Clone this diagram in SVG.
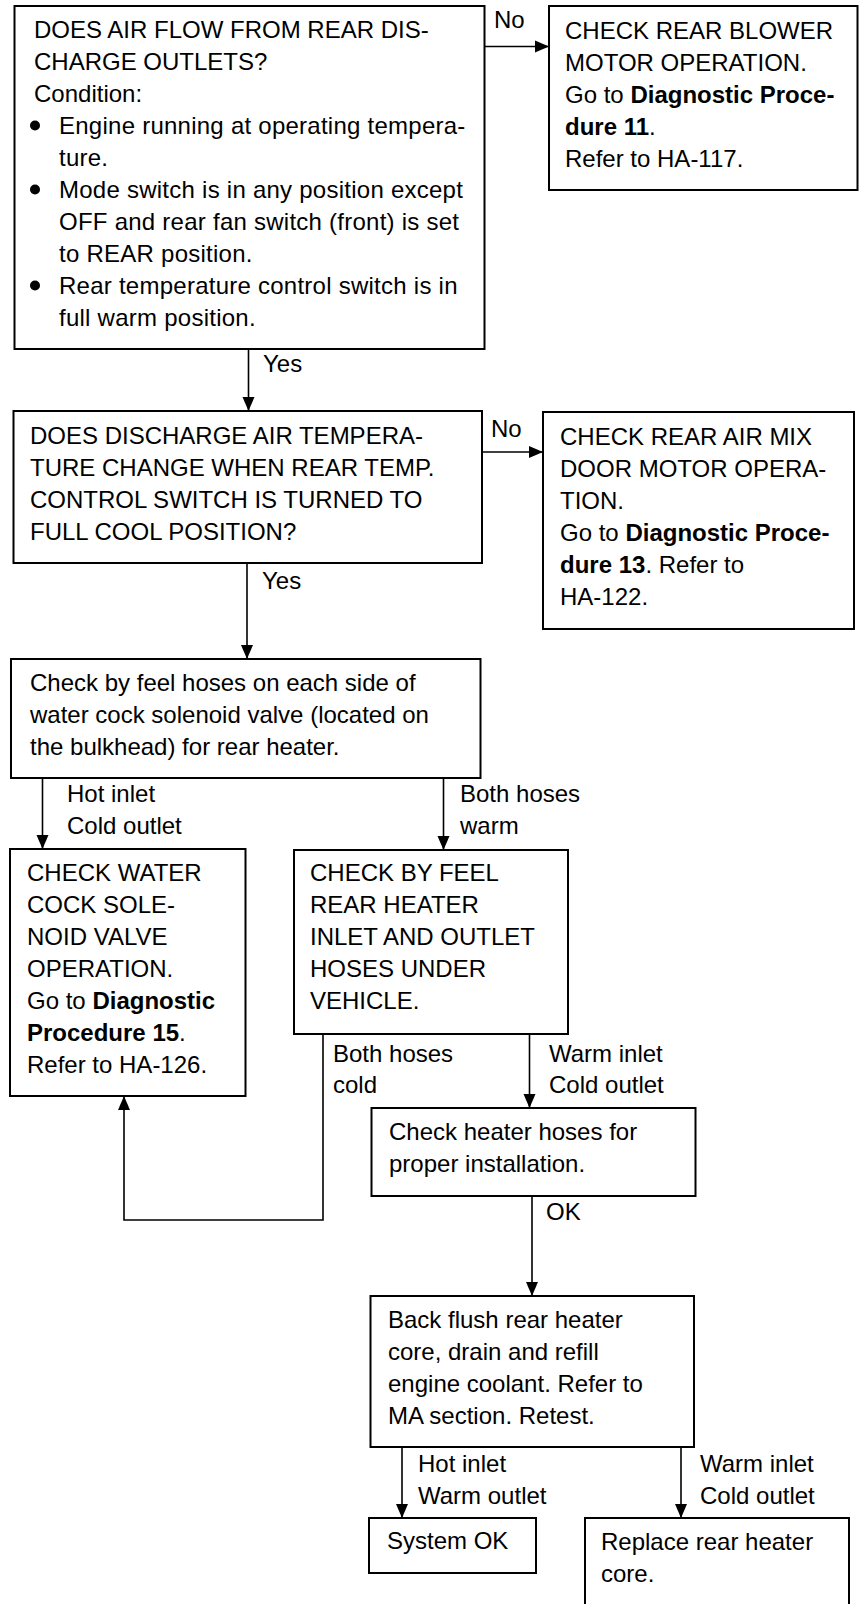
<svg xmlns="http://www.w3.org/2000/svg" width="864" height="1604" viewBox="0 0 864 1604">
<style>
.box{fill:#fff;stroke:#000;stroke-width:2}
.t{font-family:"Liberation Sans",Arial,sans-serif;font-size:24px;fill:#000}
.b{font-weight:bold}
.w{letter-spacing:0.25px}
.c{fill:none;stroke:#000;stroke-width:1.6}
</style>
<defs>
<marker id="ah" markerUnits="userSpaceOnUse" markerWidth="14" markerHeight="14" viewBox="0 0 14 12" refX="14" refY="6" orient="auto">
<path d="M0,0 L14,6 L0,12 Z" fill="#000"/>
</marker>
</defs>
<rect width="864" height="1604" fill="#fff"/>

<g id="connectors">
<line class="c" x1="485" y1="46.5" x2="549" y2="46.5" marker-end="url(#ah)"/>
<text class="t" x="494" y="28">No</text>
<line class="c" x1="248.5" y1="349" x2="248.5" y2="411" marker-end="url(#ah)"/>
<text class="t" x="263" y="372">Yes</text>
<line class="c" x1="482" y1="452" x2="543" y2="452" marker-end="url(#ah)"/>
<text class="t" x="491" y="437">No</text>
<line class="c" x1="247" y1="563" x2="247" y2="659" marker-end="url(#ah)"/>
<text class="t" x="262" y="589">Yes</text>
<line class="c" x1="42.5" y1="778" x2="42.5" y2="849" marker-end="url(#ah)"/>
<text class="t" x="67" y="802">Hot inlet</text>
<text class="t" x="67" y="834">Cold outlet</text>
<line class="c" x1="443.5" y1="778" x2="443.5" y2="850" marker-end="url(#ah)"/>
<text class="t" x="460" y="802">Both hoses</text>
<text class="t" x="460" y="834">warm</text>
<polyline class="c" points="323,1034 323,1220 124,1220 124,1096" marker-end="url(#ah)"/>
<text class="t" x="333" y="1062">Both hoses</text>
<text class="t" x="333" y="1093">cold</text>
<line class="c" x1="529.5" y1="1034" x2="529.5" y2="1108" marker-end="url(#ah)"/>
<text class="t" x="549" y="1062">Warm inlet</text>
<text class="t" x="549" y="1093">Cold outlet</text>
<line class="c" x1="532" y1="1196" x2="532" y2="1296" marker-end="url(#ah)"/>
<text class="t" x="546" y="1220">OK</text>
<line class="c" x1="402" y1="1447" x2="402" y2="1518" marker-end="url(#ah)"/>
<text class="t" x="418" y="1472">Hot inlet</text>
<text class="t" x="418" y="1504">Warm outlet</text>
<line class="c" x1="681" y1="1447" x2="681" y2="1518" marker-end="url(#ah)"/>
<text class="t" x="700" y="1472">Warm inlet</text>
<text class="t" x="700" y="1504">Cold outlet</text>
</g>

<g id="n1">
<rect class="box" x="14.5" y="6" width="470" height="343"/>
<text class="t" x="34" y="38">DOES AIR FLOW FROM REAR DIS-</text>
<text class="t" x="34" y="70">CHARGE OUTLETS?</text>
<text class="t" x="34" y="102">Condition:</text>
<circle cx="35" cy="125.5" r="5"/>
<text class="t w" x="59" y="134">Engine running at operating tempera-</text>
<text class="t w" x="59" y="166">ture.</text>
<circle cx="35" cy="189.5" r="5"/>
<text class="t w" x="59" y="198">Mode switch is in any position except</text>
<text class="t w" x="59" y="230">OFF and rear fan switch (front) is set</text>
<text class="t w" x="59" y="262">to REAR position.</text>
<circle cx="35" cy="285.5" r="5"/>
<text class="t w" x="59" y="294">Rear temperature control switch is in</text>
<text class="t w" x="59" y="326">full warm position.</text>
</g>

<g id="n2">
<rect class="box" x="549" y="6" width="308.5" height="184"/>
<text class="t" x="565" y="39">CHECK REAR BLOWER</text>
<text class="t" x="565" y="71">MOTOR OPERATION.</text>
<text class="t" x="565" y="103">Go to <tspan class="b">Diagnostic Proce-</tspan></text>
<text class="t" x="565" y="135"><tspan class="b">dure 11</tspan>.</text>
<text class="t" x="565" y="167">Refer to HA-117.</text>
</g>

<g id="n3">
<rect class="box" x="13.5" y="411" width="468.5" height="152"/>
<text class="t" x="30" y="444">DOES DISCHARGE AIR TEMPERA-</text>
<text class="t" x="30" y="476">TURE CHANGE WHEN REAR TEMP.</text>
<text class="t" x="30" y="508">CONTROL SWITCH IS TURNED TO</text>
<text class="t" x="30" y="540">FULL COOL POSITION?</text>
</g>

<g id="n4">
<rect class="box" x="543" y="412" width="311" height="217"/>
<text class="t" x="560" y="445">CHECK REAR AIR MIX</text>
<text class="t" x="560" y="477">DOOR MOTOR OPERA-</text>
<text class="t" x="560" y="509">TION.</text>
<text class="t" x="560" y="541">Go to <tspan class="b">Diagnostic Proce-</tspan></text>
<text class="t" x="560" y="573"><tspan class="b">dure 13</tspan>. Refer to</text>
<text class="t" x="560" y="605">HA-122.</text>
</g>

<g id="n5">
<rect class="box" x="11" y="659" width="469.5" height="119"/>
<text class="t" x="30" y="691">Check by feel hoses on each side of</text>
<text class="t" x="30" y="723">water cock solenoid valve (located on</text>
<text class="t" x="30" y="755">the bulkhead) for rear heater.</text>
</g>

<g id="n6">
<rect class="box" x="10" y="849" width="235.5" height="247"/>
<text class="t" x="27" y="881">CHECK WATER</text>
<text class="t" x="27" y="913">COCK SOLE-</text>
<text class="t" x="27" y="945">NOID VALVE</text>
<text class="t" x="27" y="977">OPERATION.</text>
<text class="t" x="27" y="1009">Go to <tspan class="b">Diagnostic</tspan></text>
<text class="t" x="27" y="1041"><tspan class="b">Procedure 15</tspan>.</text>
<text class="t" x="27" y="1073">Refer to HA-126.</text>
</g>

<g id="n7">
<rect class="box" x="294" y="850" width="274" height="184"/>
<text class="t" x="310" y="881">CHECK BY FEEL</text>
<text class="t" x="310" y="913">REAR HEATER</text>
<text class="t" x="310" y="945">INLET AND OUTLET</text>
<text class="t" x="310" y="977">HOSES UNDER</text>
<text class="t" x="310" y="1009">VEHICLE.</text>
</g>

<g id="n8">
<rect class="box" x="371.5" y="1108" width="324" height="88"/>
<text class="t" x="389" y="1140">Check heater hoses for</text>
<text class="t" x="389" y="1172">proper installation.</text>
</g>

<g id="n9">
<rect class="box" x="370.5" y="1296" width="323.5" height="151"/>
<text class="t" x="388" y="1328">Back flush rear heater</text>
<text class="t" x="388" y="1360">core, drain and refill</text>
<text class="t" x="388" y="1392">engine coolant. Refer to</text>
<text class="t" x="388" y="1424">MA section. Retest.</text>
</g>

<g id="n10">
<rect class="box" x="369" y="1518" width="167" height="55"/>
<text class="t" x="387" y="1549">System OK</text>
</g>

<g id="n11">
<rect class="box" x="585" y="1518" width="264" height="100"/>
<text class="t" x="601" y="1550">Replace rear heater</text>
<text class="t" x="601" y="1582">core.</text>
</g>
</svg>
